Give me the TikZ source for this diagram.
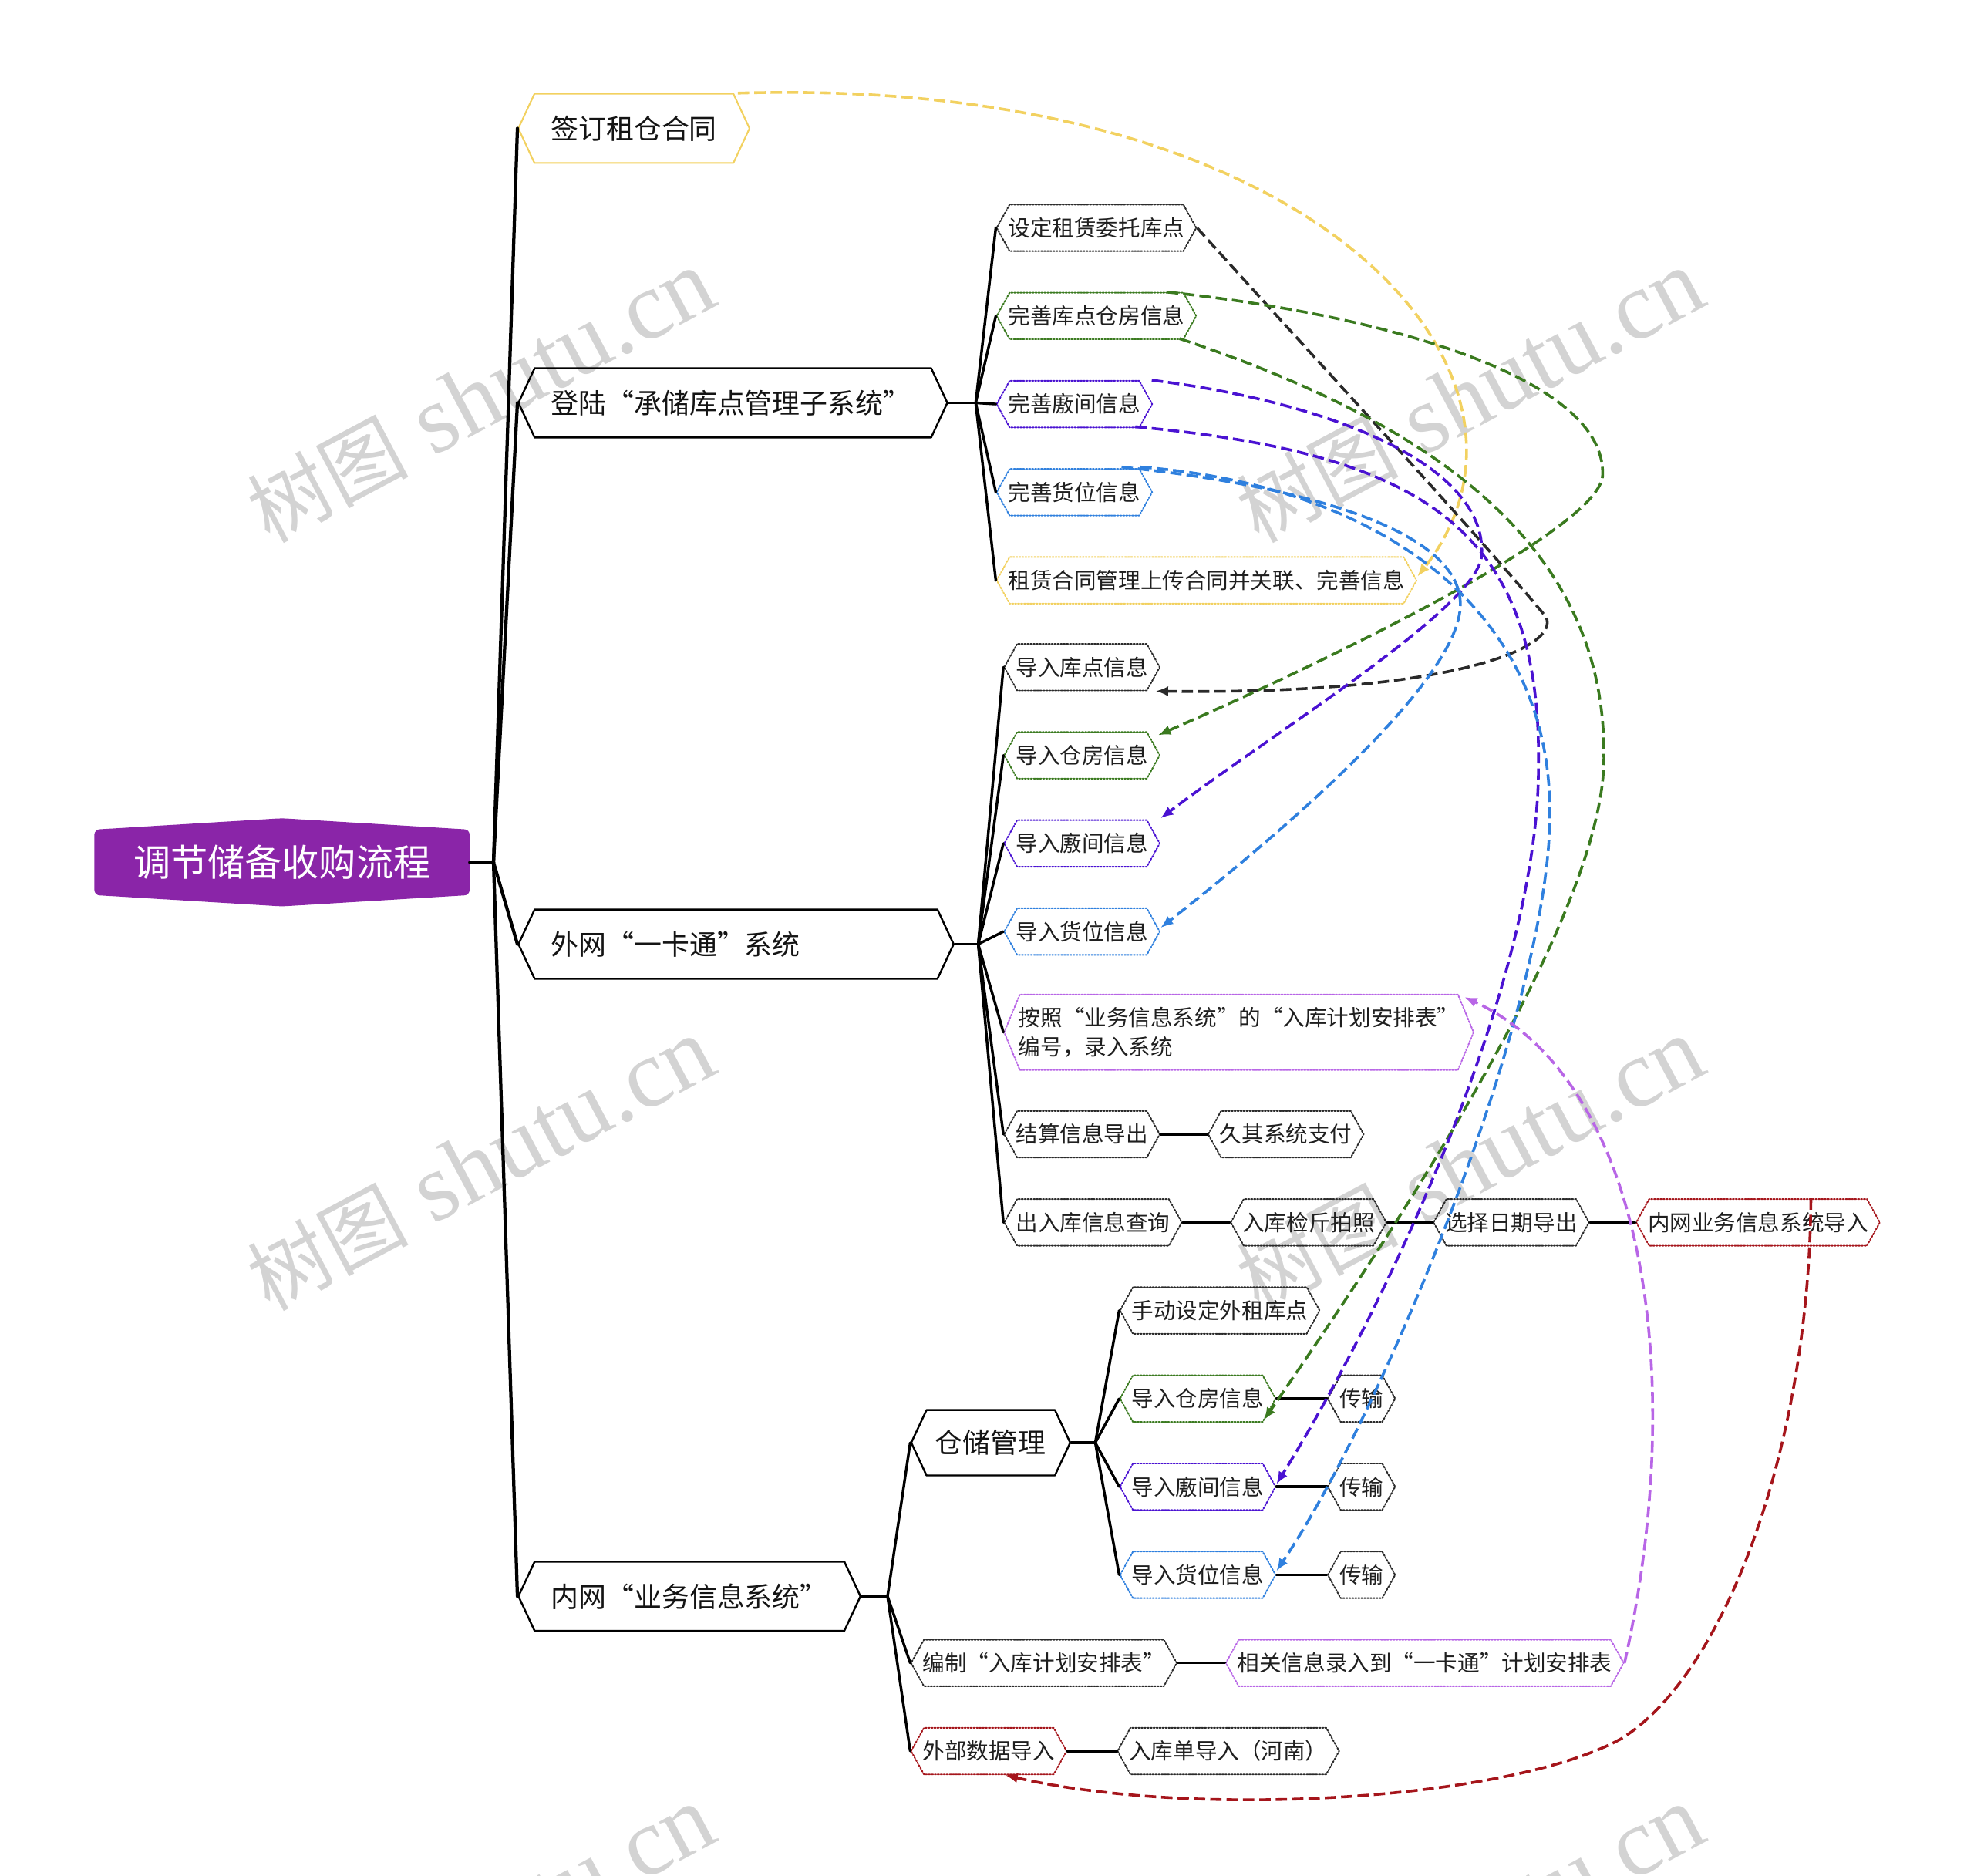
\documentclass[tikz,border=0pt]{standalone}
\usepackage{fontspec}
\newfontfamily\cjk{Noto Sans CJK SC}
\newfontfamily\wmlatin{Liberation Serif}
\usetikzlibrary{shapes.symbols,arrows.meta}
\definecolor{cyel}{HTML}{F2D160}
\definecolor{cblk}{HTML}{2A2A2A}
\definecolor{cgrn}{HTML}{3A7A1F}
\definecolor{cind}{HTML}{4A12D2}
\definecolor{cblu}{HTML}{2F80DE}
\definecolor{clpu}{HTML}{B866E6}
\definecolor{cred}{HTML}{A5151B}
\definecolor{cpur}{HTML}{8A25A8}
\definecolor{cwm}{HTML}{D3D3D3}
\begin{document}
\begin{tikzpicture}[x=1pt,y=-1pt, line cap=round, line join=round,
  lvone/.style={signal, signal to=west and east, signal pointer angle=130,
     draw=black, line width=1.5pt, minimum height=55pt, inner xsep=13pt, inner ysep=0pt,
     anchor=west, font=\cjk\fontsize{22}{26}\selectfont, text=black!92},
  lvtwo/.style={signal, signal to=west and east, signal pointer angle=122,
     draw=#1, line width=1.2pt, dash pattern=on 1.2pt off 1.2pt,
     minimum height=37pt, inner xsep=-1pt, inner ysep=0pt,
     anchor=west, font=\cjk\fontsize{17.5}{23}\selectfont, text=black!88},
  rootbox/.style={rectangle, minimum width=298pt, minimum height=53pt, inner sep=0pt,
     text=white, font=\cjk\fontsize{29.5}{32}\selectfont},
  trunk/.style={line width=2.6pt, black},
  branch/.style={line width=2.1pt, black},
  link/.style={line width=2.2pt, line cap=butt, dash pattern=on 9pt off 4pt, draw=#1,
     -{Latex[length=10pt,width=8pt,fill=#1]}},
  wmark/.style={rotate=28, anchor=base west, text=cwm, inner sep=0pt,
     font=\wmlatin\fontsize{77}{77}\selectfont},
  wmcjk/.style={font=\cjk\fontsize{64}{64}\selectfont},
]
\useasboundingbox (0,0) rectangle (1568,1490);

% watermarks
\node[wmark] (wm1) at (214,432) {{\cjk\fontsize{64}{64}\selectfont 树图} shutu.cn};
\node[wmark] (wm2) at (1000,432) {{\cjk\fontsize{64}{64}\selectfont 树图} shutu.cn};
\node[wmark] (wm3) at (214,1042) {{\cjk\fontsize{64}{64}\selectfont 树图} shutu.cn};
\node[wmark] (wm4) at (1000,1042) {{\cjk\fontsize{64}{64}\selectfont 树图} shutu.cn};
\node[wmark] (wm5) at (214,1652) {{\cjk\fontsize{64}{64}\selectfont 树图} shutu.cn};
\node[wmark] (wm6) at (1000,1652) {{\cjk\fontsize{64}{64}\selectfont 树图} shutu.cn};

% root
\path[fill=cpur, rounded corners=4pt] (75,659) -- (224,650) -- (373,659) -- (373,711) -- (224,720) -- (75,711) -- cycle;
\node[rootbox] (root) at (224,685) {调节储备收购流程};

% level 1
\node[lvone, draw=cyel, line width=1.3pt] (n1) at (411,102) {签订租仓合同};
\node[lvone, text width=289pt, align=left] (n2) at (411,320) {登陆“承储库点管理子系统”};
\node[lvone, text width=294pt, align=left] (n3) at (411,750) {外网“一卡通”系统};
\node[lvone] (n4) at (411,1268) {内网“业务信息系统”};

% level 2 under n2
\node[lvtwo=cblk] (a1) at (791,181) {设定租赁委托库点};
\node[lvtwo=cgrn] (a2) at (791,251) {完善库点仓房信息};
\node[lvtwo=cind] (a3) at (791,321) {完善廒间信息};
\node[lvtwo=cblu] (a4) at (791,391) {完善货位信息};
\node[lvtwo=cyel] (a5) at (791,461) {租赁合同管理上传合同并关联、完善信息};

% level 2 under n3
\node[lvtwo=cblk] (b1) at (797,530) {导入库点信息};
\node[lvtwo=cgrn] (b2) at (797,600) {导入仓房信息};
\node[lvtwo=cind] (b3) at (797,670) {导入廒间信息};
\node[lvtwo=cblu] (b4) at (797,740) {导入货位信息};
\node[lvtwo=clpu, align=left, minimum height=60pt, signal pointer angle=135] (b5) at (797,820) {按照“业务信息系统”的“入库计划安排表”\\编号，录入系统};
\node[lvtwo=cblk] (b6) at (797,901) {结算信息导出};
\node[lvtwo=cblk] (c1) at (959,901) {久其系统支付};
\node[lvtwo=cblk] (b7) at (797,971) {出入库信息查询};
\node[lvtwo=cblk] (c2) at (977,971) {入库检斤拍照};
\node[lvtwo=cblk] (c3) at (1138,971) {选择日期导出};
\node[lvtwo=cred] (c4) at (1299,971) {内网业务信息系统导入};

% under n4
\node[lvone, minimum height=52pt, inner xsep=7pt] (s0) at (723,1146) {仓储管理};
\node[lvtwo=cblk] (d1) at (889,1041) {手动设定外租库点};
\node[lvtwo=cgrn] (d2) at (889,1111) {导入仓房信息};
\node[lvtwo=cblk] (e1) at (1054,1111) {传输};
\node[lvtwo=cind] (d3) at (889,1181) {导入廒间信息};
\node[lvtwo=cblk] (e2) at (1054,1181) {传输};
\node[lvtwo=cblu] (d4) at (889,1251) {导入货位信息};
\node[lvtwo=cblk] (e3) at (1054,1251) {传输};
\node[lvtwo=cblk] (d5) at (723,1321) {编制“入库计划安排表”};
\node[lvtwo=clpu] (d6) at (973,1321) {相关信息录入到“一卡通”计划安排表};
\node[lvtwo=cred] (d7) at (723,1391) {外部数据导入};
\node[lvtwo=cblk] (d8) at (887,1391) {入库单导入（河南）};

% junctions
\coordinate (j0) at (392,685);
\coordinate (j1) at (775,320);
\coordinate (j2) at (777,750);
\coordinate (j3) at (705,1268);
\coordinate (j4) at (870,1146);

% tree connectors
\draw[trunk] (root.east) -- (j0);
\foreach \t in {n1,n2,n3,n4} \draw[trunk] (j0) -- (\t.west);
\draw[branch] (n2.east) -- (j1);
\foreach \t in {a1,a2,a3,a4,a5} \draw[branch] (j1) -- (\t.west);
\draw[branch] (n3.east) -- (j2);
\foreach \t in {b1,b2,b3,b4,b5,b6,b7} \draw[branch] (j2) -- (\t.west);
\draw[branch] (n4.east) -- (j3);
\foreach \t in {s0,d5,d7} \draw[branch] (j3) -- (\t.west);
\draw[branch] (s0.east) -- (j4);
\foreach \t in {d1,d2,d3,d4} \draw[branch] (j4) -- (\t.west);
\draw[branch] (b6.east) -- (c1.west);
\draw[branch] (b7.east) -- (c2.west);
\draw[branch] (c2.east) -- (c3.west);
\draw[branch] (c3.east) -- (c4.west);
\draw[branch] (d2.east) -- (e1.west);
\draw[branch] (d3.east) -- (e2.west);
\draw[branch] (d4.east) -- (e3.west);
\draw[branch] (d5.east) -- (d6.west);
\draw[branch] (d7.east) -- (d8.west);

% dashed links
\draw[link=cyel] ([shift={(-10,-28)}]n1.east) .. controls (1050,60) and (1250,300) .. ([shift={(0,-3)}]a5.east);
\draw[link=cblk] (a1.east) .. controls (1040,280) and (1170,420) .. (1228,490) .. controls (1240,515) and (1150,552) .. ([shift={(-4,19)}]b1.east);
\draw[link=cgrn] ([shift={(-24,-19)}]a2.east) .. controls (1100,250) and (1275,300) .. (1273,377) .. controls (1273,420) and (1050,527) .. ([shift={(-2,-16)}]b2.east);
\draw[link=cgrn] ([shift={(-14,18)}]a2.east) .. controls (1150,340) and (1275,440) .. (1274,600) .. controls (1276,720) and (1120,960) .. ([shift={(-10,17)}]d2.east);
\draw[link=cind] ([shift={(-1,-19)}]a3.east) .. controls (1060,320) and (1180,370) .. (1177,440) .. controls (1177,480) and (1020,576) .. ([shift={(0,-20)}]b3.east);
\draw[link=cind] ([shift={(-14,18)}]a3.east) .. controls (1130,360) and (1225,420) .. (1222,610) .. controls (1222,780) and (1100,1040) .. ([shift={(0,-2)}]d3.east);
\draw[link=cblu] ([shift={(-25,-20)}]a4.east) .. controls (1030,385) and (1160,420) .. (1160,480) .. controls (1160,540) and (1020,660) .. ([shift={(0,-3)}]b4.east);
\draw[link=cblu] ([shift={(-10,-20)}]a4.east) .. controls (1090,385) and (1234,480) .. (1231,650) .. controls (1230,800) and (1100,1120) .. ([shift={(0,-3)}]d4.east);
\draw[link=clpu] (d6.east) .. controls (1340,1100) and (1310,860) .. ([shift={(-8,-28)}]b5.east);
\draw[link=cred] ([shift={(42,0)}]c4.north) .. controls (1437,1150) and (1370,1330) .. (1288,1381) .. controls (1200,1430) and (950,1445) .. ([shift={(13,0)}]d7.south);
\end{tikzpicture}
\end{document}
